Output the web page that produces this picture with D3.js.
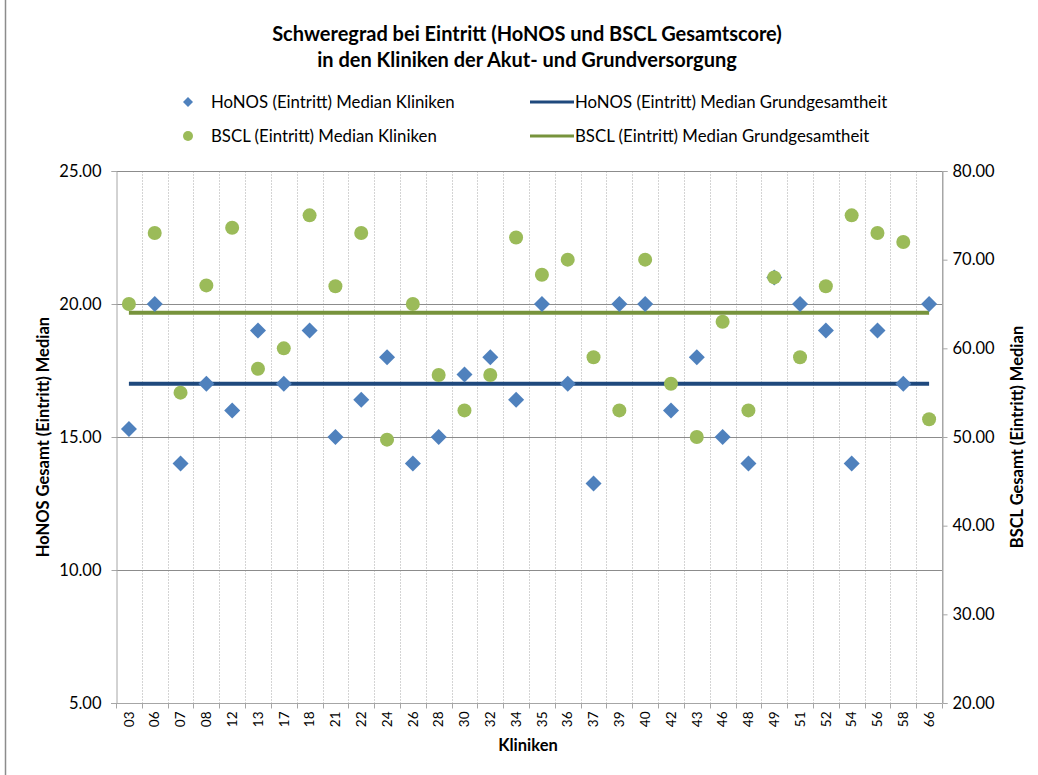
<!DOCTYPE html>
<html>
<head>
<meta charset="utf-8">
<script src="https://d3js.org/d3.v7.min.js"></script>
<style>
  body { margin: 0; background: #fff; }
  text { font-family: Lato, "Open Sans", "Liberation Sans", sans-serif; fill: #000; }
</style>
</head>
<body>
<script>
// categories (Kliniken)
var kliniken = ["03","06","07","08","12","13","17","18","21","22","24","26","28","30","32","34",
                "35","36","37","39","40","42","43","46","48","49","51","52","54","56","58","66"];

// HoNOS (Eintritt) Median Kliniken - left axis
var honos = [15.3,20,14,17,16,19,17,19,15,16.4,18,14,15,17.35,18,16.4,
             20,17,13.25,20,20,16,18,15,14,21,20,19,14,19,17,20];

// BSCL (Eintritt) Median Kliniken - right axis
var bscl = [65,73,55,67.1,73.6,57.7,60,75,67,73,49.7,65,57,53,57,72.5,
            68.3,70,59,53,70,56,50,63,53,68,59,67,75,73,72,52];

// Median Grundgesamtheit
var honosGesamt = 17;
var bsclGesamt = 64;

// tick labels
var leftTicks = [5, 10, 15, 20, 25];
var rightTicks = [20, 30, 40, 50, 60, 70, 80];

var width = 1038,
    height = 775;

var plot = { left: 116, right: 942, top: 171, bottom: 703 };

var svg = d3.select("body").append("svg")
    .attr("width", width)
    .attr("height", height);

// chart area edge
svg.append("line")
    .attr("x1", 5.5).attr("x2", 5.5)
    .attr("y1", 0).attr("y2", height)
    .attr("stroke", "#8c8c8c").attr("stroke-width", 1.5);

var x = d3.scaleBand()
    .domain(kliniken)
    .range([plot.left, plot.right])
    .padding(0);

var yL = d3.scaleLinear().domain([5, 25]).range([plot.bottom, plot.top]);
var yR = d3.scaleLinear().domain([20, 80]).range([plot.bottom, plot.top]);

function cx(d) { return x(d) + x.bandwidth() / 2; }

// vertical gridlines at category boundaries
svg.append("g")
  .selectAll("line")
  .data(kliniken.slice(1))
  .enter().append("line")
    .attr("x1", function(d) { return Math.round(x(d)) + 0.5; })
    .attr("x2", function(d) { return Math.round(x(d)) + 0.5; })
    .attr("y1", plot.top)
    .attr("y2", plot.bottom)
    .attr("stroke", "#d4d4d4")
    .attr("stroke-dasharray", "2,1");

// horizontal gridlines
svg.append("g")
  .selectAll("line")
  .data(leftTicks.slice(1))
  .enter().append("line")
    .attr("x1", plot.left)
    .attr("x2", plot.right)
    .attr("y1", function(d) { return Math.round(yL(d)) + 0.5; })
    .attr("y2", function(d) { return Math.round(yL(d)) + 0.5; })
    .attr("stroke", "#8c8c8c");

// right border of plot
svg.append("line")
    .attr("x1", plot.right + 0.5).attr("x2", plot.right + 0.5)
    .attr("y1", plot.top).attr("y2", plot.bottom)
    .attr("stroke", "#a6a6a6");

// axes
var fmt = d3.format(".2f");

var axL = svg.append("g")
    .attr("transform", "translate(" + (plot.left + 0.5) + ",0)")
    .call(d3.axisLeft(yL).tickValues(leftTicks).tickFormat(fmt).tickSize(5).tickPadding(10));

var axR = svg.append("g")
    .attr("transform", "translate(" + (plot.right + 0.5) + ",0)")
    .call(d3.axisRight(yR).tickValues(rightTicks).tickFormat(fmt).tickSize(5).tickPadding(5));

var axX = svg.append("g")
    .attr("transform", "translate(0," + (plot.bottom + 0.5) + ")")
    .call(d3.axisBottom(x).tickSize(0).tickPadding(8));

[axL, axR].forEach(function(a) {
  a.select(".domain").attr("stroke", "#a6a6a6");
  a.selectAll(".tick line").attr("stroke", "#a6a6a6");
  a.selectAll("text").style("font-size", "16.5px").attr("fill", "#000");
});

axX.select(".domain").remove();
axX.append("line")
    .attr("x1", plot.left - 5).attr("x2", plot.right)
    .attr("stroke", "#a6a6a6");
axX.selectAll(".kb")
    .data(kliniken.concat(["end"]))
  .enter().append("line")
    .attr("class", "kb")
    .attr("x1", function(d, i) { return Math.round(plot.left + i * x.bandwidth()) + 0.5; })
    .attr("x2", function(d, i) { return Math.round(plot.left + i * x.bandwidth()) + 0.5; })
    .attr("y1", 0).attr("y2", 5)
    .attr("stroke", "#a6a6a6");

axX.selectAll(".tick text")
    .style("font-size", "13.5px")
    .attr("fill", "#000")
    .attr("text-anchor", "end")
    .attr("transform", "rotate(-90)")
    .attr("x", -8)
    .attr("y", 0)
    .attr("dy", "0.35em");

// median lines (constant series over all Kliniken)
var lineL = d3.line().x(cx).y(function() { return yL(honosGesamt); });
var lineR = d3.line().x(cx).y(function() { return yR(bsclGesamt); });

svg.append("path")
    .datum(kliniken)
    .attr("d", lineR)
    .attr("fill", "none")
    .attr("stroke", "#77933C")
    .attr("stroke-width", 4);

svg.append("path")
    .datum(kliniken)
    .attr("d", lineL)
    .attr("fill", "none")
    .attr("stroke", "#1F497D")
    .attr("stroke-width", 4);

// HoNOS diamonds
var diamond = "M0,-8L8,0L0,8L-8,0Z";
svg.append("g")
  .selectAll("path")
  .data(honos)
  .enter().append("path")
    .attr("d", diamond)
    .attr("transform", function(d, i) { return "translate(" + cx(kliniken[i]) + "," + yL(d) + ")"; })
    .attr("fill", "#4F81BD");

// BSCL circles
svg.append("g")
  .selectAll("circle")
  .data(bscl)
  .enter().append("circle")
    .attr("cx", function(d, i) { return cx(kliniken[i]); })
    .attr("cy", function(d) { return yR(d); })
    .attr("r", 7)
    .attr("fill", "#9BBB59");

// title
var title = svg.append("text")
    .attr("text-anchor", "middle")
    .style("font-size", "20px")
    .style("font-weight", "bold");
title.append("tspan").attr("x", 527).attr("y", 41).text("Schweregrad bei Eintritt (HoNOS und BSCL Gesamtscore)");
title.append("tspan").attr("x", 527).attr("y", 67).text("in den Kliniken der Akut- und Grundversorgung");

// legend
var legend = svg.append("g").style("font-size", "16.8px");

legend.append("path").attr("d", "M0,-5L5,0L0,5L-5,0Z")
    .attr("transform", "translate(188,102)").attr("fill", "#4F81BD");
legend.append("text").attr("x", 211).attr("y", 108).text("HoNOS (Eintritt) Median Kliniken");

legend.append("circle").attr("cx", 188).attr("cy", 136).attr("r", 5).attr("fill", "#9BBB59");
legend.append("text").attr("x", 211).attr("y", 142).text("BSCL (Eintritt) Median Kliniken");

legend.append("line").attr("x1", 530).attr("x2", 574).attr("y1", 102).attr("y2", 102)
    .attr("stroke", "#1F497D").attr("stroke-width", 3);
legend.append("text").attr("x", 575).attr("y", 108).text("HoNOS (Eintritt) Median Grundgesamtheit");

legend.append("line").attr("x1", 530).attr("x2", 574).attr("y1", 136).attr("y2", 136)
    .attr("stroke", "#77933C").attr("stroke-width", 3);
legend.append("text").attr("x", 575).attr("y", 142).text("BSCL (Eintritt) Median Grundgesamtheit");

// axis titles
svg.append("text")
    .attr("transform", "translate(49," + ((plot.top + plot.bottom) / 2) + ") rotate(-90)")
    .attr("text-anchor", "middle")
    .style("font-size", "16.5px")
    .style("font-weight", "bold")
    .text("HoNOS Gesamt (Eintritt) Median");

svg.append("text")
    .attr("transform", "translate(1023," + ((plot.top + plot.bottom) / 2) + ") rotate(-90)")
    .attr("text-anchor", "middle")
    .style("font-size", "16.5px")
    .style("font-weight", "bold")
    .text("BSCL Gesamt (Eintritt) Median");

svg.append("text")
    .attr("x", 528)
    .attr("y", 751)
    .attr("text-anchor", "middle")
    .style("font-size", "16.5px")
    .style("font-weight", "bold")
    .text("Kliniken");
</script>
</body>
</html>
